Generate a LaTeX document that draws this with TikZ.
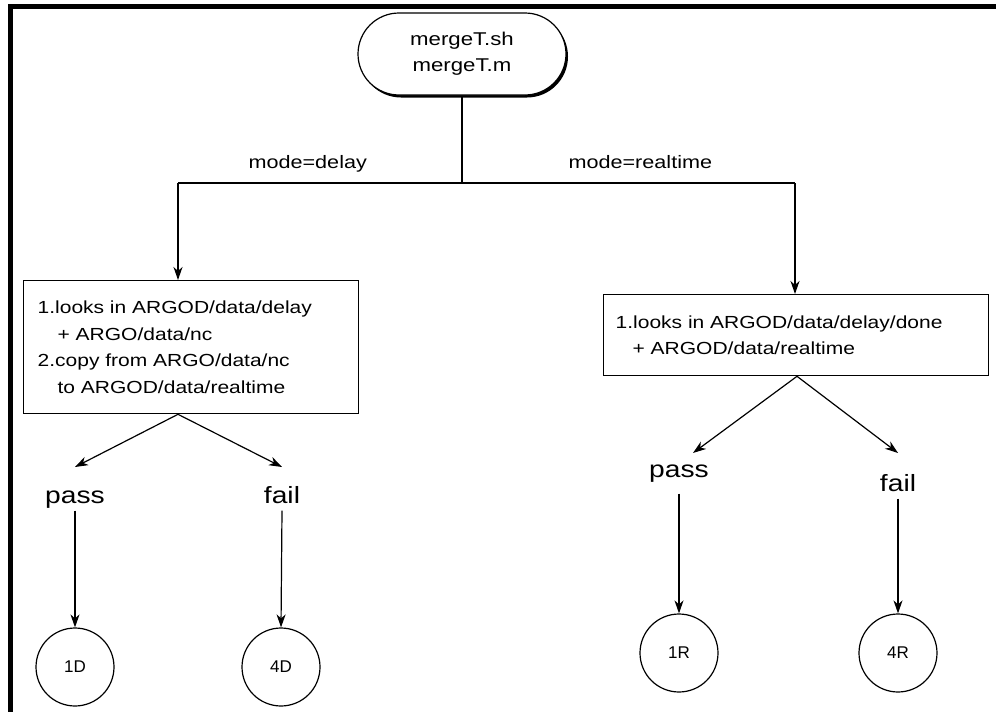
\documentclass[tikz,border=0pt]{standalone}
\usepackage{fontspec}
\setmainfont{Liberation Sans}
\newfontfamily\widefont[FakeStretch=1.2]{Liberation Sans}
\usetikzlibrary{arrows.meta,shapes.misc,shadows,calc}

\begin{document}
\begin{tikzpicture}[x=1pt,y=-1pt,line width=1.2pt,
  arr/.style={-{Stealth[length=13pt,width=9pt,inset=4pt]}},
  terminal/.style={draw,fill=white,shape=rounded rectangle,
    minimum width=208pt,minimum height=82pt,inner sep=0pt,align=center,
    font={\fontsize{18.5}{26}\widefont},
    drop shadow={shadow xshift=2pt,shadow yshift=-2.5pt,fill=black,opacity=1}},
  procbox/.style={draw,line width=1.3pt,anchor=north west,align=left,
    inner ysep=0pt,font={\fontsize{17.5}{26.7}\widefont}},
  modelabel/.style={anchor=base west,inner sep=0pt,font={\fontsize{18}{20}\widefont}},
  outcome/.style={anchor=base,inner xsep=1pt,inner ysep=2pt,text depth=5pt,
    font={\fontsize{23.5}{26}\widefont}},
  endstate/.style={draw,circle,minimum size=78pt,inner sep=0pt,
    font={\fontsize{17}{20}\selectfont}}]

\useasboundingbox (0,0) rectangle (996,712);
\fill[white] (0,0) rectangle (996,712);

% heavy frame along the top and left edges
\fill[black] (8,4) rectangle (996,9);
\fill[black] (8,4) rectangle (13,712);

% start node
\node[terminal] (top) at (462,54) {mergeT.sh\\mergeT.m};

% branch junctions
\coordinate (jl) at (178,183);
\coordinate (jr) at (795,183);

\node[modelabel] (mdelay) at (248,168) {mode=delay};
\node[modelabel] (mreal) at (568,168) {mode=realtime};

% processing boxes
\node[procbox,minimum width=335pt,minimum height=133pt,inner xsep=14pt,
      text width=307pt] (boxL) at (23,280)
  {1.looks in ARGOD/data/delay\\
   \hspace*{20pt}+ ARGO/data/nc\\
   2.copy from ARGO/data/nc\\
   \hspace*{20pt}to ARGOD/data/realtime};
\node[procbox,minimum width=385pt,minimum height=81pt,inner xsep=12pt,
      text width=361pt] (boxR) at (603,294)
  {1.looks in ARGOD/data/delay/done\\
   \hspace*{17pt}+ ARGOD/data/realtime};

% outcomes
\node[outcome] (passL) at (75,503) {pass};
\node[outcome] (failL) at (282,503) {fail};
\node[outcome] (passR) at (679,477) {pass};
\node[outcome] (failR) at (898,491) {fail};

\coordinate (tLP) at (75,467);
\coordinate (tLF) at (282,467);
\coordinate (tRP) at (693,453);
\coordinate (tRF) at (898,453);

% final states
\node[endstate] (s1D) at (75,667) {1D};
\node[endstate] (s4D) at (281,667) {4D};
\node[endstate] (s1R) at (679,653) {1R};
\node[endstate] (s4R) at (898,653) {4R};

% connectors
\draw (top.south) -- (top.south |- jl);
\draw (jl) -- (jr);
\draw[arr] (jl) -- (jl |- boxL.north);
\draw[arr] (jr) -- (jr |- boxR.north);

\coordinate (oL) at (jl |- boxL.south);
\coordinate (oR) at ($(jr |- boxR.south)+(2,0)$);
\draw[arr] (oL) -- (tLP);
\draw[arr] (oL) -- (tLF);
\draw[arr] (oR) -- (tRP);
\draw[arr] (oR) -- (tRF);

\draw[arr] (passL.south) -- (s1D.north);
\draw[arr] (failL.south) -- (s4D.north);
\draw[arr,shorten <=9pt] (passR.south) -- (s1R.north);
\draw[arr] (failR.south) -- (s4R.north);
\end{tikzpicture}
\end{document}
